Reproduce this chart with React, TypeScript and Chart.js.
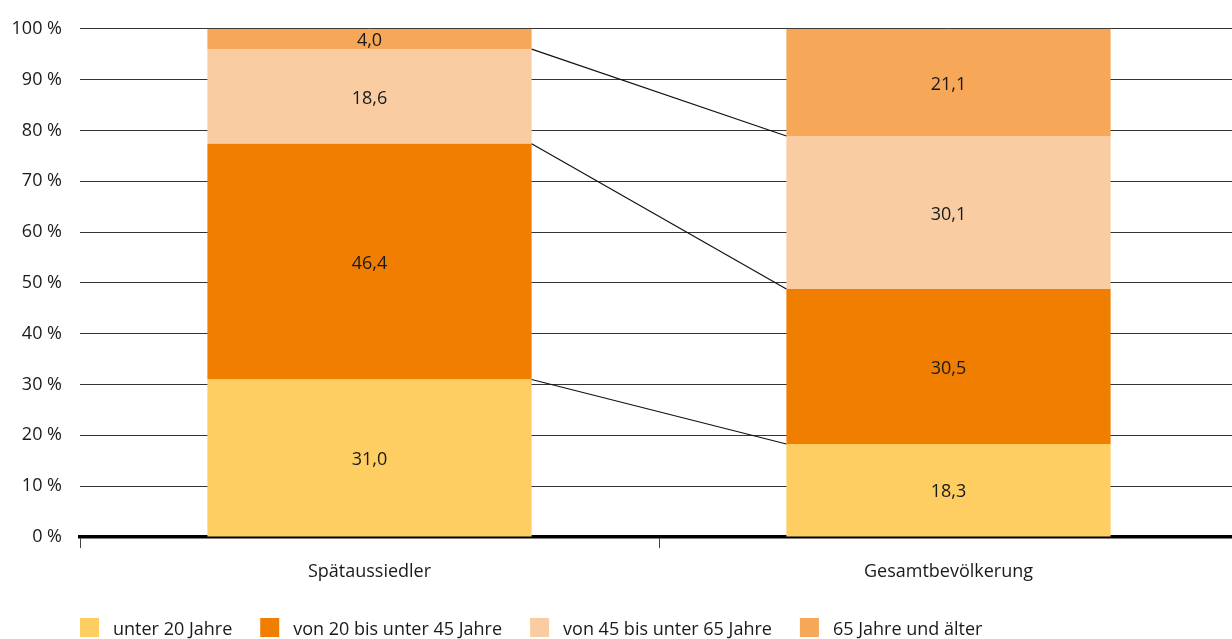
import React, { useEffect, useRef } from "react";
import { Chart, registerables } from "chart.js";

Chart.register(...registerables);

const categories = ["Spätaussiedler", "Gesamtbevölkerung"];
const seriesNames = [
  "unter 20 Jahre",
  "von 20 bis unter 45 Jahre",
  "von 45 bis unter 65 Jahre",
  "65 Jahre und älter",
];
const under20 = [31.0, 18.3];
const from20to45 = [46.4, 30.5];
const from45to65 = [18.6, 30.1];
const over65 = [4.0, 21.1];
const colors = ["#FECE62", "#F07E00", "#F9CDA1", "#F6A858"];

const FONT = "'Open Sans', sans-serif";
const TEXT = "#1a1a1a";
const SIZE = 18;

const fmt = (v: number) => v.toFixed(1).replace(".", ",");

const overlayPlugin = {
  id: "overlay",
  afterDatasetsDraw(chart: any) {
    const ctx = chart.ctx;
    ctx.save();
    const n = chart.data.datasets.length;
    ctx.strokeStyle = "#111";
    ctx.lineWidth = 1.2;
    for (let i = 0; i < n - 1; i++) {
      const meta = chart.getDatasetMeta(i);
      const a = meta.data[0];
      const b = meta.data[1];
      const pa = a.getProps(["x", "y", "width"], true);
      const pb = b.getProps(["x", "y", "width"], true);
      ctx.beginPath();
      ctx.moveTo(pa.x + pa.width / 2, pa.y);
      ctx.lineTo(pb.x - pb.width / 2, pb.y);
      ctx.stroke();
    }
    ctx.fillStyle = TEXT;
    ctx.font = `${SIZE}px ${FONT}`;
    ctx.textAlign = "center";
    ctx.textBaseline = "middle";
    for (let i = 0; i < n; i++) {
      const meta = chart.getDatasetMeta(i);
      meta.data.forEach((el: any, j: number) => {
        const p = el.getProps(["x", "y", "base"], true);
        const v = chart.data.datasets[i].data[j];
        ctx.fillText(fmt(v), p.x, (p.y + p.base) / 2 + 2);
      });
    }
    ctx.restore();
  },
  afterDraw(chart: any) {
    const ctx = chart.ctx;
    ctx.save();
    ctx.font = `${SIZE}px ${FONT}`;
    ctx.textBaseline = "middle";
    ctx.textAlign = "left";
    let x = chart.chartArea.left;
    const top = chart.chartArea.bottom + 81;
    chart.data.datasets.forEach((ds: any) => {
      ctx.fillStyle = ds.backgroundColor;
      ctx.fillRect(x, top, 19, 19);
      ctx.fillStyle = TEXT;
      const tx = x + 33;
      ctx.fillText(ds.label, tx, top + 12);
      x = tx + ctx.measureText(ds.label).width + 28;
    });
    ctx.restore();
  },
};

export default function App() {
  const ref = useRef<HTMLCanvasElement | null>(null);
  useEffect(() => {
    if (!ref.current) return;
    const series = [under20, from20to45, from45to65, over65];
    const chart = new Chart(ref.current, {
      type: "bar",
      data: {
        labels: categories,
        datasets: series.map((d, i) => ({
          label: seriesNames[i],
          data: d,
          backgroundColor: colors[i],
          borderWidth: 0,
          categoryPercentage: 1,
          barPercentage: 0.56,
        })),
      },
      options: {
        responsive: false,
        animation: false,
        devicePixelRatio: 1,
        layout: { padding: { top: 27, left: 0, right: 0, bottom: 0 } },
        plugins: {
          legend: { display: false },
          tooltip: { enabled: false },
        },
        scales: {
          x: {
            stacked: true,
            afterFit: (s: any) => {
              s.height = 102;
            },
            grid: {
              offset: true,
              drawOnChartArea: false,
              drawTicks: true,
              tickLength: 11,
              tickColor: "#444",
              tickWidth: 1,
            },
            border: { display: true, color: "#000", width: 3.5 },
            ticks: {
              padding: 13,
              color: TEXT,
              font: { family: FONT, size: SIZE },
            },
          },
          y: {
            stacked: true,
            min: 0,
            max: 100,
            afterFit: (s: any) => {
              s.width = 80;
            },
            grid: {
              drawTicks: false,
              color: "#333",
              lineWidth: 1,
            },
            border: { display: false },
            ticks: {
              stepSize: 10,
              padding: 18,
              color: TEXT,
              font: { family: FONT, size: SIZE },
              callback: (v: any) => `${v} %`,
            },
          },
        },
      },
      plugins: [overlayPlugin],
    });
    return () => chart.destroy();
  }, []);
  return (
    <div
      style={{
        position: "absolute",
        left: 0,
        top: 0,
        width: 1232,
        height: 639,
        overflow: "hidden",
        background: "#fff",
      }}
    >
      <canvas ref={ref} width={1238} height={639} style={{ display: "block" }} />
    </div>
  );
}
